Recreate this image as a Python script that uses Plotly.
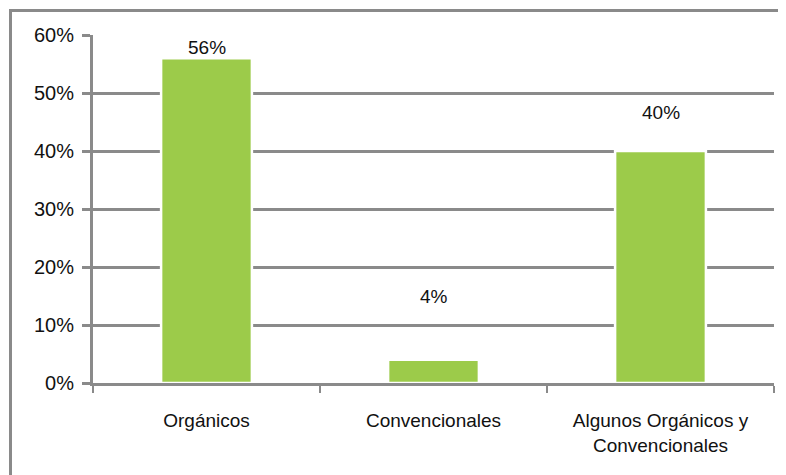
import plotly.graph_objects as go

categories = ["Orgánicos", "Convencionales", "Algunos Orgánicos y<br>Convencionales"]
values = [56, 4, 40]
value_labels = ["56%", "4%", "40%"]
y_tick_vals = [0, 10, 20, 30, 40, 50, 60]
y_tick_text = ["0%", "10%", "20%", "30%", "40%", "50%", "60%"]

label_shift = [8, 61, 36]  # pixel offsets of the value labels above bar tops

GRAY = "#8a8a8a"
FONT = "Liberation Sans, Arial, sans-serif"

fig = go.Figure()
fig.add_trace(go.Bar(
    x=categories, y=values, width=0.4,
    marker=dict(color="#9ccb4a", line=dict(color="white", width=2.5)),
    hoverinfo="skip",
))

for c, v, t, s in zip(categories, values, value_labels, label_shift):
    fig.add_annotation(x=c, y=v, text=t, showarrow=False, yanchor="bottom",
                       yshift=s - 10, font=dict(size=19, color="#111", family=FONT))

# outer frame (top and left visible)
fig.add_shape(type="rect", xref="paper", yref="paper",
              x0=(10.5 - 93) / 681, x1=1.05, y0=-0.35, y1=1 + (35 - 10.5) / 348,
              line=dict(color=GRAY, width=3), layer="below")

fig.update_layout(
    width=778, height=467,
    margin=dict(l=85, r=12, t=27, b=92),
    paper_bgcolor="white", plot_bgcolor="white",
    showlegend=False,
    font=dict(family=FONT, size=19, color="#111"),
    xaxis=dict(
        showline=True, linecolor=GRAY, linewidth=3,
        ticks="outside", tickson="boundaries", ticklen=7, tickwidth=2, tickcolor=GRAY,
        ticklabelstandoff=18, showgrid=False,
        tickfont=dict(size=19, family=FONT, color="#111"),
    ),
    yaxis=dict(
        range=[0, 60], tickvals=y_tick_vals, ticktext=y_tick_text,
        showline=True, linecolor=GRAY, linewidth=3,
        ticks="outside", ticklen=8, tickwidth=3, tickcolor=GRAY,
        ticklabelstandoff=4,
        showgrid=True, gridcolor=GRAY, gridwidth=3, zeroline=False,
        tickfont=dict(size=20, family=FONT, color="#111"),
    ),
    bargap=0.6,
)

fig.write_html("out.html")
